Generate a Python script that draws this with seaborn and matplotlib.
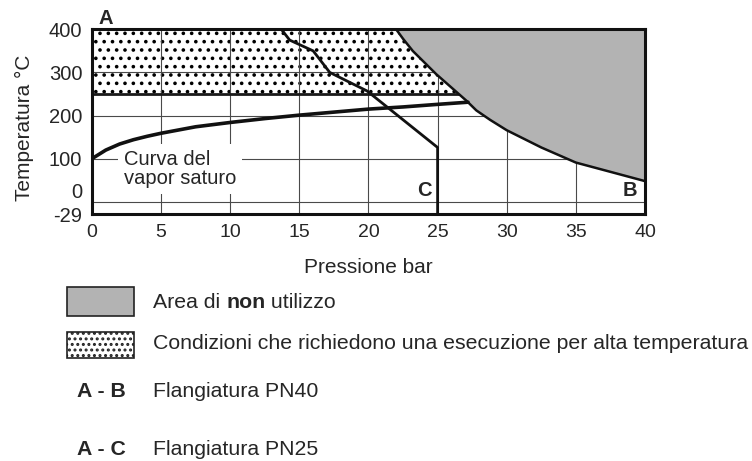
import matplotlib
matplotlib.use("Agg")
import matplotlib.pyplot as plt
from matplotlib.patches import Rectangle
import pandas as pd
import seaborn as sns

# saturated steam curve (pressure bar g, temperature degC)
sat_p = [0, 1, 2, 3, 4, 5, 7.5, 10, 12.5, 15, 17.5, 20, 22.5, 25, 27.2]
sat_t = [100, 120, 134, 144, 152, 159, 174, 184, 193, 201, 208, 215, 220, 226, 231]

# PN40 limit (A - B), right of it is the "non utilizzo" area
pn40_p = [22.0, 22.5, 23.2, 24.9, 27.1, 27.8, 28.8, 30.0, 32.5, 35.0, 40.0]
pn40_t = [400, 378, 350, 296, 234, 212, 190, 166, 126, 91, 48]

# PN25 limit (A - C)
pn25_p = [13.7, 14.3, 16.0, 17.2, 19.9, 25.0, 25.0]
pn25_t = [400, 375, 350, 300, 257, 126, -29]

p_min, p_max = 0, 40
t_min, t_max = -29, 400
hot_t = 250  # lower edge of the high temperature area

x_ticks = [0, 5, 10, 15, 20, 25, 30, 35, 40]
y_ticks = [-29, 0, 100, 200, 300, 400]
y_labels = ["-29", "0", "100", "200", "300", "400"]
grid_t = [0, 100, 200, 300]

sns.set_style("white")
plt.rcParams["font.family"] = ["Liberation Sans", "DejaVu Sans"]
plt.rcParams["hatch.linewidth"] = 1.4

fig = plt.figure(figsize=(7.52, 4.61), dpi=100)
ax = fig.add_axes([0.1223, 0.5351, 0.7354, 0.4013])

grid_c = "#4a4a4a"
for p in x_ticks[1:-1]:
    ax.axvline(p, color=grid_c, lw=0.8, zorder=0.5)
for t in grid_t:
    ax.axhline(t, color=grid_c, lw=0.8, zorder=0.5)

# high temperature area (dotted)
ax.fill_between([p_min, p_max], hot_t, t_max, facecolor="white",
                edgecolor="black", hatch="..", linewidth=0, zorder=0.2)
ax.hlines(hot_t, p_min, p_max, color="#1a1a1a", lw=2.0, zorder=0.8)

# non utilizzo area
ax.fill_betweenx(pn40_t, pn40_p, p_max, color="#b3b3b3", lw=0, zorder=1)

df40 = pd.DataFrame({"p": pn40_p, "t": pn40_t})
df25 = pd.DataFrame({"p": pn25_p, "t": pn25_t})
dsat = pd.DataFrame({"p": sat_p, "t": sat_t})
sns.lineplot(data=df40, x="p", y="t", sort=False, estimator=None,
             color="#111111", lw=1.8, ax=ax, zorder=3)
sns.lineplot(data=df25, x="p", y="t", sort=False, estimator=None,
             color="#111111", lw=2.0, ax=ax, zorder=3)
sns.lineplot(data=dsat, x="p", y="t", sort=False, estimator=None,
             color="#111111", lw=2.6, ax=ax, zorder=3)

ax.text(2.3, 120, "Curva del\nvapor saturo", fontsize=14.5, ha="left", va="top",
        linespacing=1.0, zorder=2.5,
        bbox=dict(facecolor="white", edgecolor="none", pad=4))
ax.text(0.5, 412, "A", fontsize=14.5, fontweight="bold", ha="left", va="baseline",
        clip_on=False)
ax.text(24.55, 13, "C", fontsize=14.5, fontweight="bold", ha="right", va="baseline", zorder=4)
ax.text(39.45, 13, "B", fontsize=14.5, fontweight="bold", ha="right", va="baseline", zorder=4)

ax.set_xlim(p_min, p_max)
ax.set_ylim(t_min, t_max)
ax.set_xticks(x_ticks)
ax.set_yticks(y_ticks, y_labels)
ax.tick_params(axis="both", direction="out", length=5, width=1, color="#333333", pad=2)
ax.tick_params(axis="x", labelsize=14)
ax.tick_params(axis="y", labelsize=14.5)
# the "0" label sits on top of its tick, as in the original drawing
ax.get_yticklabels()[1].set_verticalalignment("bottom")
for s in ax.spines.values():
    s.set_linewidth(2.2)
    s.set_color("#111111")
    s.set_zorder(5)
ax.set_xlabel("Pressione bar", fontsize=15, labelpad=12)
ax.set_ylabel("Temperatura °C", fontsize=15)
ax.yaxis.set_label_coords(-0.105, 0.47)

# legend drawn below the chart
fig.add_artist(Rectangle((0.0891, 0.3145), 0.0891, 0.0629, transform=fig.transFigure,
                         facecolor="#b3b3b3", edgecolor="#222222", lw=1.2))
fig.add_artist(Rectangle((0.0891, 0.2234), 0.0891, 0.0564, transform=fig.transFigure,
                         facecolor="white", edgecolor="#222222", lw=1.2, hatch="..."))
fs = 15.3
row_y = [0.3319, 0.2430, 0.1388, 0.0120]
fig.text(0.2035, row_y[1], "Condizioni che richiedono una esecuzione per alta temperatura",
         fontsize=fs, va="baseline")
fig.text(0.1024, row_y[2], "A - B", fontsize=fs, fontweight="bold", va="baseline")
fig.text(0.2035, row_y[2], "Flangiatura PN40", fontsize=fs, va="baseline")
fig.text(0.1024, row_y[3], "A - C", fontsize=fs, fontweight="bold", va="baseline")
fig.text(0.2035, row_y[3], "Flangiatura PN25", fontsize=fs, va="baseline")

# first legend row with a bold "non"
r = fig.canvas.get_renderer()
ta = fig.text(0.2035, row_y[0], "Area di ", fontsize=fs, va="baseline")
x0 = ta.get_window_extent(r).x1 / fig.bbox.width
tn = fig.text(x0, row_y[0], "non", fontsize=fs, fontweight="bold", va="baseline")
x1 = tn.get_window_extent(r).x1 / fig.bbox.width
fig.text(x1, row_y[0], " utilizzo", fontsize=fs, va="baseline")

fig.savefig("out.png", dpi=100)
